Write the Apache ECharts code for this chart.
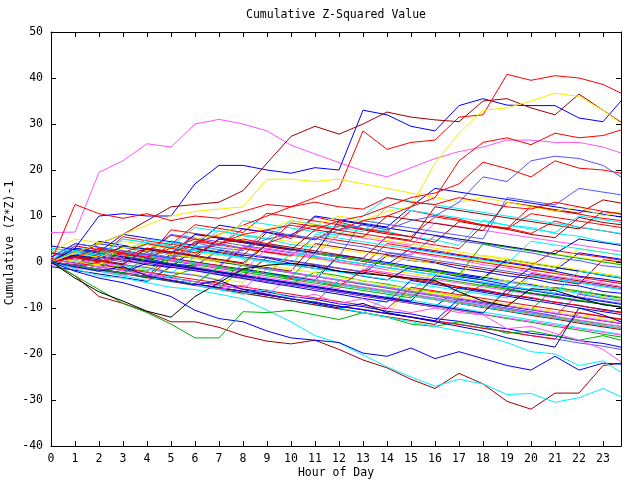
<!DOCTYPE html>
<html><head><meta charset="utf-8">
<script src="https://cdn.jsdelivr.net/npm/echarts@6/dist/echarts.min.js"></script>
<style>html,body{margin:0;padding:0;background:#fff}#c{width:640px;height:480px}</style>
</head><body><div id="c"></div>
<script>
// ---- data ----
const chartTitle = 'Cumulative Z-Squared Value';
const xTitle = 'Hour of Day';
const yTitle = 'Cumulative (Z*Z)-1';
const hours = [0,1,2,3,4,5,6,7,8,9,10,11,12,13,14,15,16,17,18,19,20,21,22,23,23.75];

// prominent traced lines
const t01 = [6.4,6.5,19.5,22,25.7,25,30,31,30,28.5,25.4,23.5,21.6,19.8,18.5,20.5,22.5,24,25,26.5,26.5,26,26,25,23.7];
const t02 = [0,3,10,10.5,10,10,17,21,21,20,19.3,20.5,20,33,32,29.5,28.5,34,35.5,34.1,34,34,31.3,30.5,35];
const t03 = [0,2,4,6,9,12,12.5,13,15.5,21.5,27.3,29.5,27.8,30,32.6,31.5,30.9,30.5,35,35.5,33.5,32,36.5,33,30.4];
const t04 = [0,-1,0,1,3,2,4,6,8,10,12,14,16,28.5,24.5,26,26.5,31.5,32,40.8,39.5,40.5,40,38.6,36.7];
const t05 = [0,2,1,3,4,3,5,6,8,7,9,8,10,9,11,12,21.5,28,33,33.5,35,36.7,36,33,30.2];
const t06 = [0,2,4,6,8,10,11,11.5,12,18,18,17.5,18,17,16,15,14,13,14,13,12,11,12,10,11];
const t07 = [0,1,0,2,1,3,2,4,5,4,6,8,7,9,10,12,14,22,26,27,25.5,28,27,27.5,28.7];
const t08 = [0,1,3,2,4,3,5,4,6,7,8,7,9,10,12,14,15,17,21.7,20.3,18.5,22,20.4,20,19.3];
const t09 = [0,-1,1,0,2,1,3,4,3,5,6,5,7,8,7,9,10,13,18.5,17.5,22,23,22.5,21,18.5];
const t10 = [0,-3,-7.5,-9,-10.8,-13,-13,-14.2,-16,-17.2,-17.8,-17,-19,-21.3,-23,-25.5,-27.5,-24.2,-26.5,-30.3,-32,-28.5,-28.5,-22.5,-22];
const t11 = [0,-1.5,-3,-3.5,-4.5,-5.5,-6,-7,-8,-10.5,-13,-16,-17.6,-20.2,-22.8,-25,-27,-25.5,-26.5,-28.8,-28.6,-30.5,-29.5,-27.5,-29.3];
const t12 = [0,-2,-3.5,-4.5,-6,-7.5,-10.5,-12.3,-13,-15,-16.5,-17,-17.5,-19.8,-20.5,-18.7,-21,-19.5,-21,-22.5,-23.5,-20.5,-23.5,-22,-22.2];
const t13 = [0,-3,-6,-9,-11,-13.5,-16.5,-16.5,-10.8,-11,-10.5,-11.5,-12.5,-11,-12,-13.5,-14,-13,-14,-15.5,-15,-16,-17,-16,-17];
const t14 = [0,-3.5,-6.5,-8.5,-10.7,-12,-7.5,-4.5,-1.5,-0.7,-0.3,-1,-2,-2.5,-3,-3.5,-4,-6.5,-8.5,-9.6,-5.8,-6.2,-7.8,-9.3,-9.8];
const t15 = [0,-1,-2,-3,-2,-4,-5,-6,-5,-7,-8,-7,-9,-8,-10,-11,-10,-11,-11.5,-14.5,-14,-15.5,-17,-19,-21.7];
const t16 = [0,-1,-2,-3,-4,-3,-5,-6,-7,-6,-8,-9,-10,-11,-12,-13,-14,-15,-16,-17.5,-19.5,-20,-22.5,-21.5,-24];
const t17 = [0,-1,-2,-1,-3,-4,-5,-4,-6,-7,-8,-9,-10,-9,-11,-12,-13,-14,-15,-16.5,-17.5,-18.5,-10,-11.5,-13];
const t18 = [0,12.5,10.5,9.5,10.5,9,10,9.5,11,12.5,12,13,12,11.5,14,13,12.5,14,13,12,11.5,13,12,11,10.5];

// middle band lines
const m01 = [0,-1,-1.5,2,1.2,0.5,-0.3,-1,3,2.2,1.5,0.8,0,-0.8,4,3.2,2.5,1.6,0.8,0,-0.8,2.5,1.7,1,0.4];
const m02 = [1,0.3,-0.5,-1.2,-2,1.5,0.8,0,-0.8,-1.6,-2.4,-3.2,1,0.2,-0.6,-1.5,-2.3,-3,-3.8,0.5,-0.3,-1.1,-2,-2.8,-3.4];
const m03 = [2,1.2,4,3.2,2.4,1.6,0.8,5,4.2,3.4,2.6,1.8,1,0.2,-0.6,3,2.2,1.4,0.6,-0.2,-1,-1.8,2,1.2,0.6];
const m04 = [-0.5,-1.3,-2,-2.8,0.5,-0.3,-1,-1.8,-2.6,-3.4,-4.2,-5,-5.8,-1.5,-2.3,-3,-3.8,-4.6,-5.4,-6.2,-7,-7.8,-8.6,-4,-4.6];
const m05 = [1.5,0.8,0,-0.8,-1.6,-2.4,1,0.2,-0.6,-1.4,-2.2,-3,-3.8,-4.6,-5.4,-6.2,-2,-2.8,-3.6,-4.4,-5.2,-6,-6.8,-7.6,-8.2];
const m06 = [0,2.5,1.7,0.9,0.1,-0.7,-1.5,-2.3,-3.1,1,0.2,-0.6,-1.4,-2.2,-3,-3.8,-4.6,-5.4,-6.2,-7,-2.5,-3.3,-4.1,-4.9,-5.5];
const m07 = [0.5,-0.3,-1,2.5,1.7,0.9,0.1,-0.7,-1.5,-2.3,1.5,0.7,-0.1,-0.9,-1.7,-2.5,-3.3,1,0.2,-0.6,-1.4,-2.2,-3,-3.8,-4.4];
const m08 = [3,2.2,1.4,0.6,-0.2,-1,3.5,2.7,1.9,1.1,0.3,-0.5,-1.3,-2.1,2,1.2,0.4,-0.4,-1.2,-2,-2.8,-3.6,-4.4,-5.2,-5.8];
const m09 = [-1,-1.8,-2.6,-3.4,-4.2,-1,-1.8,-2.6,-3.4,-4.2,-5,-5.8,-6.6,-7.4,-8.2,-9,-9.8,-5.5,-6.3,-7.1,-7.9,-8.7,-9.5,-10.3,-10.9];
const m10 = [0,-0.8,3,2.2,1.4,0.6,-0.2,-1,-1.8,-2.6,-3.4,-4.2,-5,-5.8,-6.6,-7.4,-8.2,-9,-9.8,-10.6,-11.4,-12.2,-13,-13.8,-14.4];
const m11 = [0,-0.8,-1.6,-2.4,-3.2,-4,-4.8,-5.6,-1.5,-2.3,-3.1,-3.9,-4.7,-5.5,-6.3,-7.1,-7.9,-8.7,-9.5,-10.3,-11.1,-11.9,-12.7,-13.5,-14];
const m12 = [1,4,3.2,2.4,1.6,0.8,0,-0.8,-1.6,-2.4,-3.2,-4,1.5,0.7,-0.1,-0.9,-1.7,-2.5,-3.3,-4.1,-4.9,-5.7,-6.5,-7.3,-7.9];
const m13 = [0,-0.8,-1.6,-2.4,-3.2,-4,-4.8,-5.6,-6.4,-7.2,-3,-3.8,-4.6,-5.4,-6.2,-7,-7.8,-8.6,-9.4,-10.2,-11,-11.8,-12.6,-13.4,-14];
const m14 = [2.5,1.7,0.9,5,4.2,3.4,2.6,1.8,1,0.2,-0.6,-1.4,-2.2,-3,-3.8,-4.6,-5.4,-6.2,-7,-7.8,-3,-3.8,-4.6,-5.4,-6];
const m15 = [0,-0.8,-1.6,-2.4,-3.2,2,1.2,0.4,-0.4,-1.2,-2,4,3.2,2.4,1.6,0.8,0,-0.8,-1.6,-2.4,-3.2,-4,-4.8,0.5,0];
const m16 = [0,-0.8,-1.6,-2.4,-3.2,-4,-4.8,-5.6,-6.4,-7.2,-8,-8.8,-9.6,-10.4,-11.2,-6,-6.8,-7.6,-8.4,-9.2,-10,-10.8,-11.6,-12.4,-13];
const m17 = [0,2,4,3.2,2.4,6,5.2,4.4,3.6,2.8,2,1.2,0.4,-0.4,-1.2,-2,-2.8,-3.6,-4.4,-5.2,-6,-6.8,-7.6,-8.4,-9];
const m18 = [0.5,-0.2,-1.1,-1.8,-2.7,-3.4,-4.3,-5,-5.9,-6.5,-7.5,-8.1,-9.1,-9.7,-10.7,-11.3,-12.3,-12.9,-13.9,-14.5,-15.5,-16.1,-17.1,-17.7,-18.5];
const m19 = [0,3.5,2.7,1.9,1.1,0.3,4.5,3.7,2.9,2.1,1.3,5.5,4.7,3.9,3.1,2.3,1.5,0.7,-0.1,-0.9,-1.7,-2.5,-3.3,-4.1,-4.7];
const m20 = [0,-0.8,-1.6,-2.4,-3.2,-4,-4.8,-5.6,-6.4,-7.2,-8,-8.8,-4,-4.8,-5.6,-6.4,-7.2,-8,-8.8,-9.6,-10.4,-5.5,-6.3,-7.1,-7.7];
const m21 = [3.5,2.7,1.9,1.1,0.3,-0.5,-1.3,-2.1,-2.9,-3.7,-4.5,-5.3,-6.1,-6.9,-7.7,-8.5,-3,-3.8,-4.6,-5.4,-6.2,-7,-7.8,-8.6,-9.2];
const m22 = [0,-0.8,1.5,0.7,-0.1,-0.9,-1.7,-2.5,-3.3,-4.1,-4.9,-5.7,-6.5,-7.3,-8.1,-8.9,-9.7,-10.5,-11.3,-12.1,-12.9,-13.7,-14.5,-15.3,-15.9];
const m23 = [0,-0.8,-1.6,-2.4,-3.2,-4,-4.8,-1,-1.8,-2.6,-3.4,-4.2,-5,-5.8,-6.6,-7.4,-8.2,-9,-9.8,-10.6,-11.4,-12.2,-13,-13.8,-14.4];
const m24 = [1,0.2,-0.6,-1.4,-2.2,-3,-3.8,-4.6,-5.4,-6.2,-7,-7.8,-8.6,-9.4,-10.2,-5.5,-6.3,-7.1,-7.9,-8.7,-9.5,-10.3,-11.1,-11.9,-12.5];
const m25 = [2,5,4.2,3.4,2.6,1.8,1,0.2,-0.6,3.5,2.7,1.9,1.1,0.3,-0.5,-1.3,-2.1,-2.9,1.5,0.7,-0.1,-0.9,-1.7,-2.5,-3.1];
const m26 = [0,-0.7,-1.6,-2.3,-3.2,-3.9,-4.8,-5.5,-6.4,-7.1,-8,-8.7,-9.6,-10.3,-11.2,-11.9,-12.8,-13.5,-14.4,-15.1,-16,-16.7,-17.6,-18.3,-19];
const m27 = [0,2.5,1.7,0.9,0.1,-0.7,-1.5,-2.3,-3.1,-3.9,-4.7,-5.5,-6.3,-7.1,-7.9,-8.7,-9.5,-10.3,-11.1,-6,-6.8,-7.6,-8.4,-9.2,-9.8];
const m28 = [0,-0.8,-1.6,-2.4,-3.2,-4,-4.8,-5.6,-6.4,-7.2,-8,-8.8,-9.6,-10.4,-11.2,-12,-12.8,-13.6,-14.4,-15.2,-16,-16.8,-11,-11.8,-12.4];
const m29 = [0,-0.8,-1.6,-2.4,1,0.2,-0.6,-1.4,-2.2,-3,-3.8,-4.6,-5.4,-6.2,-7,-7.8,-3.5,-4.3,-5.1,-5.9,-6.7,-7.5,-8.3,-9.1,-9.7];
const m30 = [0,-0.8,-1.6,-2.4,-3.2,-4,-4.8,-5.6,-6.4,-7.2,-8,-8.8,-9.6,-10.4,-11.2,-12,-12.8,-8,-8.8,-9.6,-10.4,-11.2,-12,-12.8,-13.4];
const m31 = [0.5,-0.3,-1.1,-1.9,-2.7,-3.5,-4.3,-5.1,-5.9,-1.5,-2.3,-3.1,-3.9,-4.7,-5.5,-6.3,-7.1,-7.9,-8.7,-9.5,-10.3,-11.1,-11.9,-12.7,-13.3];
const m32 = [1,0.2,3,2.2,1.4,0.6,-0.2,-1,-1.8,-2.6,2,1.2,0.4,-0.4,-1.2,-2,-2.8,-3.6,-4.4,-5.2,-6,-6.8,-2,-2.8,-3.4];

// more middle lines
const n01 = [0,1.5,0.2,3.5,2.1,5.8,4.9,3.6,7.2,6.5,5.1,9.8,8.7,7.3,6.6,11.2,10.1,9.3,8.0,7.4,6.2,8.9,7.5,6.8,6.1];
const n02 = [1,0.4,2.8,2.1,1.0,0.6,4.2,3.1,2.5,6.9,5.8,5.1,4.0,3.3,2.1,1.5,5.7,4.6,3.9,2.7,2.0,0.9,0.3,-0.8,-1.2];
const n03 = [0,-1.1,-1.7,1.9,0.8,-0.4,-0.9,2.6,1.5,0.9,-0.3,-0.8,-2.0,-2.6,1.4,0.3,-0.2,-1.4,-2.1,-3.0,-3.6,-4.7,-5.2,-6.4,-6.8];
const n04 = [0.5,3.4,2.6,1.5,0.9,4.6,3.5,6.8,5.7,5.0,3.8,3.2,8.4,7.3,6.7,5.4,4.8,3.6,9.1,8.0,7.5,6.2,5.6,4.4,3.9];
const n05 = [0,-0.6,1.8,1.1,0.2,3.9,3.0,2.2,1.4,6.5,5.6,4.8,7.9,7.0,6.1,5.5,4.3,8.8,7.9,7.1,6.0,5.3,9.7,8.6,8.1];
const n06 = [0,-1.0,-0.4,-1.5,-2.2,-3.1,-1.4,-2.3,-3.3,-4.0,-4.9,-2.2,-3.0,-4.1,-4.8,-5.9,-6.5,-7.6,-4.9,-5.7,-6.8,-7.4,-8.5,-9.1,-9.8];
const n07 = [0,0.8,-0.1,-0.9,1.6,0.7,-0.2,-0.8,3.4,2.5,1.6,1.0,-0.1,-0.8,-1.7,2.1,1.2,0.5,-0.6,-1.3,-2.2,-3.1,-3.8,-4.6,-5.3];
const n08 = [0,2.1,1.2,0.4,-0.6,-1.2,2.9,2.0,1.1,0.3,-0.6,-1.4,-2.0,-3.1,-3.9,-1.0,-1.7,-2.8,-3.5,0.6,-0.3,-1.2,-2.0,-2.9,-3.5];
const n09 = [0,-0.9,-1.5,-2.6,-1.0,-2.1,-2.7,-3.8,-4.4,-0.6,-1.6,-2.3,-3.4,-4.0,-5.1,-5.8,-6.7,-7.3,-3.0,-4.1,-4.7,-5.8,-6.4,-7.5,-8.0];
const n10 = [0,1.2,4.5,3.6,2.8,1.7,1.1,0.0,-0.6,3.8,2.9,2.0,1.4,0.2,-0.4,-1.5,-2.1,-3.2,-3.9,-4.9,-1.2,-2.0,-3.1,-3.7,-4.3];
const n11 = [0,-0.7,-1.8,-2.4,-3.5,0.8,-0.1,-0.8,-1.9,-2.5,-3.6,-4.2,-5.3,-1.8,-2.6,-3.6,-4.3,-5.4,-6.0,-7.1,-7.7,-8.8,-9.4,-10.5,-11.0];
const n12 = [0,-0.9,-1.6,-2.6,-3.3,-4.3,-5.0,-6.0,-6.7,-7.7,-8.4,-9.4,-10.1,-11.1,-7.5,-8.3,-9.2,-10.0,-10.9,-11.7,-12.6,-13.4,-14.3,-15.1,-15.7];
const n13 = [2,1.1,0.5,-0.6,-1.2,-2.3,-2.9,-4.0,-0.6,-1.5,-2.3,-3.2,-4.0,-4.9,-5.7,-6.6,-7.4,-8.3,-9.1,-10.0,-10.8,-11.7,-7.0,-7.9,-8.5];
const n14 = [0,-0.8,-1.7,-2.5,-3.4,-4.2,-5.1,-5.9,-6.8,-7.6,-8.5,-9.3,-10.2,-11.0,-11.9,-12.7,-13.6,-9.0,-9.9,-10.7,-11.6,-12.4,-13.3,-14.1,-14.7];
const n15 = [0,3.0,2.2,1.3,0.5,-0.4,-1.2,-2.1,-2.9,-3.8,-4.6,-5.5,-6.3,-7.2,-8.0,-8.9,-9.7,-10.6,-11.4,-12.3,-13.1,-14.0,-14.8,-15.7,-16.3];
const n16 = [0,-0.7,-1.6,-2.4,-0.2,-1.1,-1.9,-2.8,-3.6,-4.5,-5.3,-6.2,-7.0,-7.9,-8.7,-4.0,-4.9,-5.7,-6.6,-7.4,-8.3,-9.1,-10.0,-10.8,-11.4];
const n17 = [0,2.0,1.1,5.5,4.6,3.8,8.1,7.3,6.4,10.6,9.8,8.9,8.1,7.2,6.4,5.5,9.8,9.0,8.1,7.3,12.1,11.2,10.4,9.5,9.0];
const n18 = [1,0.2,-0.7,3.3,2.5,1.6,0.8,-0.1,4.6,3.7,2.9,2.0,6.4,5.6,4.7,3.9,3.0,2.2,1.3,0.5,-0.4,-1.2,2.9,2.1,1.5];

// upper-middle lines
const u01 = [0,3,2.2,6,5.2,4.4,3.6,8,7.2,6.4,5.6,10,9.2,8.4,7.6,12,16,15.2,14.4,13.6,12.8,12,11.2,10.4,9.8];
const u02 = [0,-0.8,2.5,1.7,5,4.2,3.4,2.6,9,8.2,7.4,6.6,5.8,10,14,13.2,12.4,11.6,10.8,10,9.2,8.4,7.6,6.8,6.2];
const u03 = [2,1.2,0.4,-0.4,3,2.2,1.4,0.6,-0.2,4,3.2,2.4,1.6,0.8,5.5,4.7,12,11.2,10.4,9.6,8.8,8,7.2,11,10.4];
const u04 = [0,-0.8,-1.6,2,1.2,0.4,-0.4,-1.2,-2,3,2.2,1.4,6,5.2,4.4,3.6,8.5,7.7,6.9,6.1,5.3,4.5,3.7,2.9,2.3];
const u05 = [0,-0.8,2.5,1.7,0.9,7,6.2,5.4,4.6,3.8,8.5,7.7,6.9,6.1,5.3,4.5,3.7,2.9,8,7.2,10.5,9.7,8.9,8.1,7.5];
const u06 = [1,0.2,-0.6,4.5,3.7,2.9,2.1,1.3,6,5.2,4.4,3.6,2.8,2,1.2,0.4,-0.4,5,4.2,3.4,2.6,1.8,1,0.2,-0.4];
const u07 = [0,4,3.2,2.4,1.6,0.8,6,5.2,4.4,3.6,2.8,2,1.2,9,8.2,7.4,6.6,5.8,5,14,13.2,12.4,16,15.2,14.6];
const u08 = [0,-0.8,-1.6,-2.4,-3.2,-4,-4.8,-1,-1.8,-2.6,-3.4,2,1.2,0.4,-0.4,-1.2,-2,-2.8,4,3.2,2.4,1.6,0.8,0,-0.6];
const u09 = [0,1.5,0.7,3.5,2.7,1.9,6,5.2,4.4,3.6,2.8,2,9,8.2,7.4,6.6,5.8,5,4.2,3.4,2.6,1.8,5,4.2,3.6];
const u10 = [0,2.5,1.7,0.9,4,3.2,2.4,1.6,0.8,0,-0.8,6,5.2,4.4,3.6,2.8,2,1.2,0.4,-0.4,4.5,3.7,2.9,2.1,1.5];
const u11 = [0,1,0.2,-0.6,3,2.2,1.4,5,4.2,3.4,2.6,7,6.2,5.4,10,9.2,8.4,7.6,6.8,13,12.2,11.4,10.6,13.5,12.8];
const u12 = [3,2.2,1.4,5,4.2,3.4,7.5,6.7,5.9,5.1,9,8.2,7.4,6.6,12,11.2,10.4,9.6,8.8,8,7.2,6.4,10,9.2,8.6];

// ---- styles ----
const COL = {
  red:'#ff0000', green:'#00b000', blue:'#0000ff', magenta:'#ff55ff', cyan:'#00f0ff',
  darkred:'#a00000', yellow:'#f0f000', slate:'#5555ff', navy:'#0000a8', black:'#000000'
};
const drawList = [
  [m01,'red'],[m02,'green'],[m03,'blue'],[m04,'magenta'],[m05,'cyan'],[m06,'darkred'],[m07,'yellow'],[m08,'slate'],
  [n01,'red'],[n02,'slate'],[n03,'blue'],[n04,'cyan'],[n05,'darkred'],[n06,'green'],[n07,'magenta'],[n08,'navy'],
  [m09,'navy'],[m10,'red'],[m11,'green'],[m12,'blue'],[m13,'magenta'],[m14,'cyan'],[m15,'darkred'],[m16,'yellow'],
  [n09,'yellow'],[n10,'blue'],[n11,'red'],[n12,'cyan'],[n13,'slate'],[n14,'darkred'],[n15,'green'],[n16,'blue'],
  [m17,'slate'],[m18,'blue'],[m19,'red'],[m20,'green'],[m21,'blue'],[m22,'magenta'],[m23,'cyan'],[m24,'red'],
  [n17,'red'],[n18,'yellow'],
  [m25,'yellow'],[m26,'slate'],[m27,'navy'],[m28,'red'],[m29,'green'],[m30,'blue'],[m31,'magenta'],[m32,'cyan'],
  [u01,'blue'],[u02,'cyan'],[u03,'darkred'],[u04,'magenta'],[u05,'red'],[u06,'yellow'],[u07,'slate'],[u08,'green'],
  [u09,'navy'],[u10,'cyan'],[u11,'darkred'],[u12,'cyan'],
  [t01,'magenta'],[t02,'blue'],[t03,'darkred'],[t04,'red'],[t05,'yellow'],[t06,'yellow'],[t07,'red'],[t08,'red'],
  [t09,'slate'],[t10,'darkred'],[t11,'cyan'],[t12,'blue'],[t13,'green'],[t14,'black'],[t15,'magenta'],[t16,'cyan'],
  [t17,'navy'],[t18,'red']
];

const FONT = "'DejaVu Sans Mono', monospace";
const series = drawList.map(([vals, c]) => ({
  type:'line', xAxisIndex:0, yAxisIndex:0, showSymbol:false, symbol:'none', silent:true,
  lineStyle:{width:1, color:COL[c]}, itemStyle:{color:COL[c]}, z:2,
  data: hours.map((h, k) => [h, vals[k]])
}));

const axisCommon = {
  axisLine:{show:true, onZero:false, lineStyle:{color:'#000', width:1}},
  axisTick:{show:true, inside:true, length:5, lineStyle:{color:'#000', width:1}},
  splitLine:{show:false}
};

const chart = echarts.init(document.getElementById('c'), null, {renderer:'canvas'});
chart.setOption({
  animation:false,
  backgroundColor:'#ffffff',
  grid:{left:51, right:19, top:32, bottom:34, containLabel:false},
  xAxis:[
    Object.assign({type:'value', min:0, max:23.75, interval:1, position:'bottom',
      axisLabel:{margin:7, color:'#000', fontFamily:FONT, fontSize:11.5, showMaxLabel:false,
        formatter:v => Number.isInteger(v) ? String(v) : ''}}, axisCommon),
    Object.assign({type:'value', min:0, max:23.75, interval:1, position:'top', axisLabel:{show:false}}, axisCommon)
  ],
  yAxis:[
    Object.assign({type:'value', min:-40, max:50, interval:10, position:'left',
      axisLabel:{margin:8, color:'#000', fontFamily:FONT, fontSize:11.5}}, axisCommon),
    Object.assign({type:'value', min:-40, max:50, interval:10, position:'right', axisLabel:{show:false}}, axisCommon)
  ],
  graphic:[
    {type:'text', x:336, y:15, style:{text:chartTitle, font:"11.5px 'DejaVu Sans Mono'", fill:'#000', textAlign:'center', textVerticalAlign:'middle'}},
    {type:'text', x:336, y:473, style:{text:xTitle, font:"11.5px 'DejaVu Sans Mono'", fill:'#000', textAlign:'center', textVerticalAlign:'middle'}},
    {type:'text', x:10, y:243, rotation:Math.PI/2, style:{text:yTitle, font:"11.5px 'DejaVu Sans Mono'", fill:'#000', textAlign:'center', textVerticalAlign:'middle'}}
  ],
  series: series
});
</script>
</body></html>
